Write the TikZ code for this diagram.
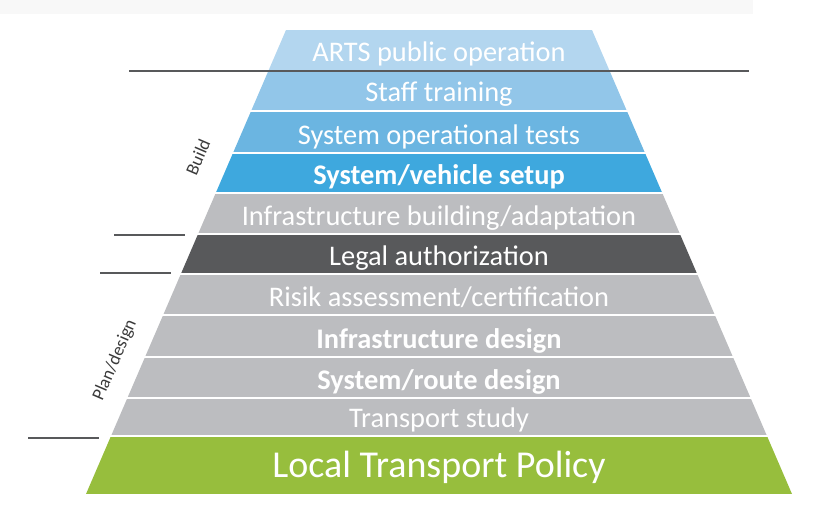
\documentclass[tikz,border=0pt]{standalone}
\usepackage{fontspec}
\setmainfont{Carlito}
\definecolor{artsblue}{HTML}{B3D6EF}
\definecolor{staffblue}{HTML}{92C6E9}
\definecolor{testblue}{HTML}{6BB5E1}
\definecolor{setupblue}{HTML}{3EA8DE}
\definecolor{bandgray}{HTML}{BCBDC0}
\definecolor{legalgray}{HTML}{58595B}
\definecolor{policygreen}{HTML}{97BE3D}
\definecolor{linegray}{HTML}{58595B}
\definecolor{stripgray}{HTML}{F8F8F8}
\definecolor{phasetext}{HTML}{3A3A3A}
\begin{document}
\begin{tikzpicture}[x=1pt,y=-1pt,
  lvl/.style={anchor=base,text=white,font=\fontsize{28.4}{31}\selectfont},
  phase/.style={text=phasetext,rotate=66.7,font=\fontsize{18}{20}\selectfont},
  sep/.style={draw=linegray,line width=2.2pt}]
 \useasboundingbox (0,0) rectangle (817,511);
 \fill[stripgray] (0,0) rectangle (753,14);
 % pyramid bands, clipped to the outline
 \begin{scope}
 \clip (286,30) -- (592,30) -- (792,494) -- (86,494) -- cycle;
 \fill[artsblue] (0,30) rectangle (817,70);
 \fill[staffblue] (0,72) rectangle (817,110);
 \fill[testblue] (0,112) rectangle (817,152);
 \fill[setupblue] (0,154) rectangle (817,192);
 \fill[bandgray] (0,194) rectangle (817,233);
 \fill[legalgray] (0,235) rectangle (817,273);
 \fill[bandgray] (0,275) rectangle (817,314);
 \fill[bandgray] (0,316) rectangle (817,356);
 \fill[bandgray] (0,358) rectangle (817,397);
 \fill[bandgray] (0,399) rectangle (817,435);
 \fill[policygreen] (0,437) rectangle (817,494);
 \end{scope}
 \node (lvl 1) at (439,62) [lvl] {ARTS public operation};
 \node (lvl 2) at (439,102) [lvl] {Staff training};
 \node (lvl 3) at (439,144) [lvl] {System operational tests};
 \node (lvl 4) at (439,184) [lvl,font=\fontsize{28.4}{31}\selectfont\bfseries] {System/vehicle setup};
 \node (lvl 5) at (439,225) [lvl] {Infrastructure building/adaptation};
 \node (lvl 6) at (439,265) [lvl] {Legal authorization};
 \node (lvl 7) at (439,306) [lvl] {Risik assessment/certification};
 \node (lvl 8) at (439,348) [lvl,font=\fontsize{28.4}{31}\selectfont\bfseries] {Infrastructure design};
 \node (lvl 9) at (439,389) [lvl,font=\fontsize{28.4}{31}\selectfont\bfseries] {System/route design};
 \node (lvl 10) at (439,427) [lvl] {Transport study};
 \node (lvl 11) at (439,477) [lvl,font=\fontsize{38}{41}\selectfont] {Local Transport Policy};
 % phase separators
 \coordinate (sep 1a) at (129,71);
 \coordinate (sep 1b) at (749,71);
 \coordinate (sep 2a) at (114,235);
 \coordinate (sep 2b) at (185,235);
 \coordinate (sep 3a) at (100,273);
 \coordinate (sep 3b) at (171,273);
 \coordinate (sep 4a) at (28,438);
 \coordinate (sep 4b) at (99,438);
 \draw[sep] (sep 1a) -- (sep 1b);
 \draw[sep] (sep 2a) -- (sep 2b);
 \draw[sep] (sep 3a) -- (sep 3b);
 \draw[sep] (sep 4a) -- (sep 4b);
 \node (build) at (198,157) [phase] {Build};
 \node (plan) at (115,360) [phase] {Plan/design};
\end{tikzpicture}
\end{document}
